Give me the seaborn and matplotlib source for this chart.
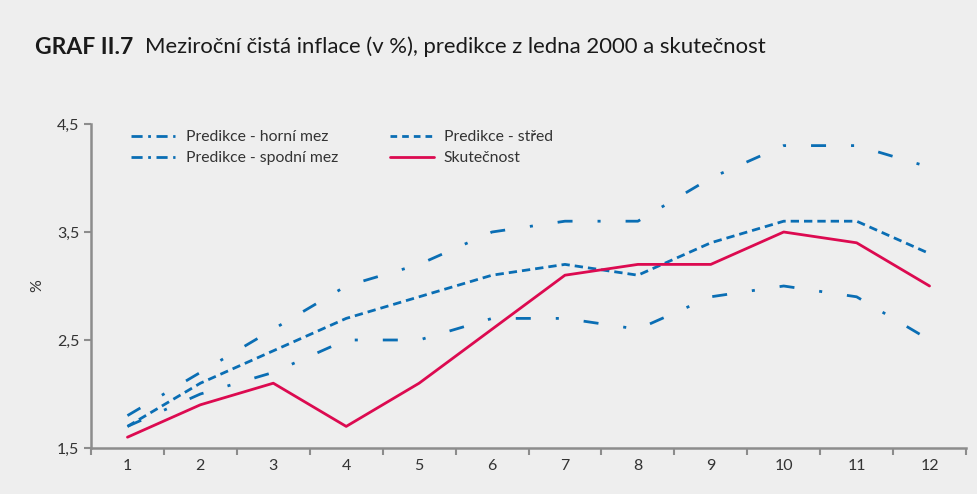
import matplotlib.pyplot as plt
import matplotlib.ticker as mticker
from matplotlib.lines import Line2D
import pandas as pd
import seaborn as sns

# Data
months = list(range(1, 13))
horni_mez = [1.8, 2.2, 2.6, 3.0, 3.2, 3.5, 3.6, 3.6, 4.0, 4.3, 4.3, 4.1]
stred = [1.7, 2.1, 2.4, 2.7, 2.9, 3.1, 3.2, 3.1, 3.4, 3.6, 3.6, 3.3]
spodni_mez = [1.7, 2.0, 2.2, 2.5, 2.5, 2.7, 2.7, 2.6, 2.9, 3.0, 2.9, 2.5]
skutecnost = [1.6, 1.9, 2.1, 1.7, 2.1, 2.6, 3.1, 3.2, 3.2, 3.5, 3.4, 3.0]
y_ticks = [1.5, 2.5, 3.5, 4.5]

bg = '#eeeeee'
blue = '#0a6eb4'
red = '#dc0a50'
spine_col = '#8c8c8c'
txt_col = '#333333'

sns.set_style('ticks', {'axes.facecolor': bg, 'figure.facecolor': bg})
plt.rcParams['font.family'] = ['Lato', 'DejaVu Sans']

df = pd.DataFrame({
    'month': months * 4,
    'value': horni_mez + stred + spodni_mez + skutecnost,
    'series': (['Predikce - horní mez'] * 12 + ['Predikce - střed'] * 12
               + ['Predikce - spodní mez'] * 12 + ['Skutečnost'] * 12),
})

fig = plt.figure(figsize=(9.77, 4.94), dpi=100)
ax = fig.add_axes([91 / 977, 1 - 448 / 494, 875 / 977, 324 / 494])

lw = 2.0
# (colour, chart dashes, legend dashes) - the legend sample is drawn more compact
styles = {
    'Predikce - horní mez': (blue, (5.4, 9.0, 1.1, 9.0), (4.0, 2.0, 1.0, 2.0)),
    'Predikce - spodní mez': (blue, (5.4, 9.0, 1.1, 9.0), (4.0, 2.0, 1.0, 2.0)),
    'Predikce - střed': (blue, (3.0, 1.8), (2.4, 1.8)),
    'Skutečnost': (red, None, None),
}
for name, (col, dsh, _) in styles.items():
    sub = df[df['series'] == name]
    sns.lineplot(data=sub, x='month', y='value', ax=ax, color=col, lw=lw, legend=False)
    if dsh:
        ax.get_lines()[-1].set_dashes(dsh)

ax.set_xlim(0.5, 12.5)
ax.set_ylim(1.5, 4.5)
ax.set_yticks(y_ticks)
ax.yaxis.set_major_formatter(mticker.FuncFormatter(lambda v, p: f'{v:.1f}'.replace('.', ',')))
ax.set_xticks(months)
ax.set_xticks([m - 0.5 for m in months] + [12.5], minor=True)
ax.tick_params(axis='x', which='major', length=0, pad=8)
ax.tick_params(axis='x', which='minor', length=5, width=1.5, color=spine_col)
ax.tick_params(axis='y', length=5, width=1.5, color=spine_col)
ax.tick_params(labelsize=11.5, labelcolor=txt_col)
for s in ['left', 'bottom']:
    ax.spines[s].set_color(spine_col)
    ax.spines[s].set_linewidth(1.8)
sns.despine(ax=ax)
ax.set_xlabel('')
ax.set_ylabel('%', fontsize=11.5, color=txt_col, labelpad=9)

order = ['Predikce - horní mez', 'Predikce - spodní mez', 'Predikce - střed', 'Skutečnost']
leg_handles = []
for n in order:
    col, _, ldsh = styles[n]
    h = Line2D([], [], color=col, lw=lw)
    if ldsh:
        h.set_dashes(ldsh)
    leg_handles.append(h)
ax.legend(leg_handles, order, ncol=2, frameon=False, loc='upper left',
          bbox_to_anchor=(0.03, 1.025), fontsize=11.3, handlelength=2.8, columnspacing=3.3,
          labelspacing=0.45, handletextpad=0.65, labelcolor=txt_col)

fig.text(35 / 977, 1 - 47 / 494, 'GRAF II.7', fontsize=16.5, fontweight='bold', va='center', color='#1a1a1a')
fig.text(145 / 977, 1 - 47 / 494, 'Meziroční čistá inflace (v %), predikce z ledna 2000 a skutečnost',
         fontsize=15.9, va='center', color='#1a1a1a')

fig.savefig('out.png', dpi=100, facecolor=bg)
